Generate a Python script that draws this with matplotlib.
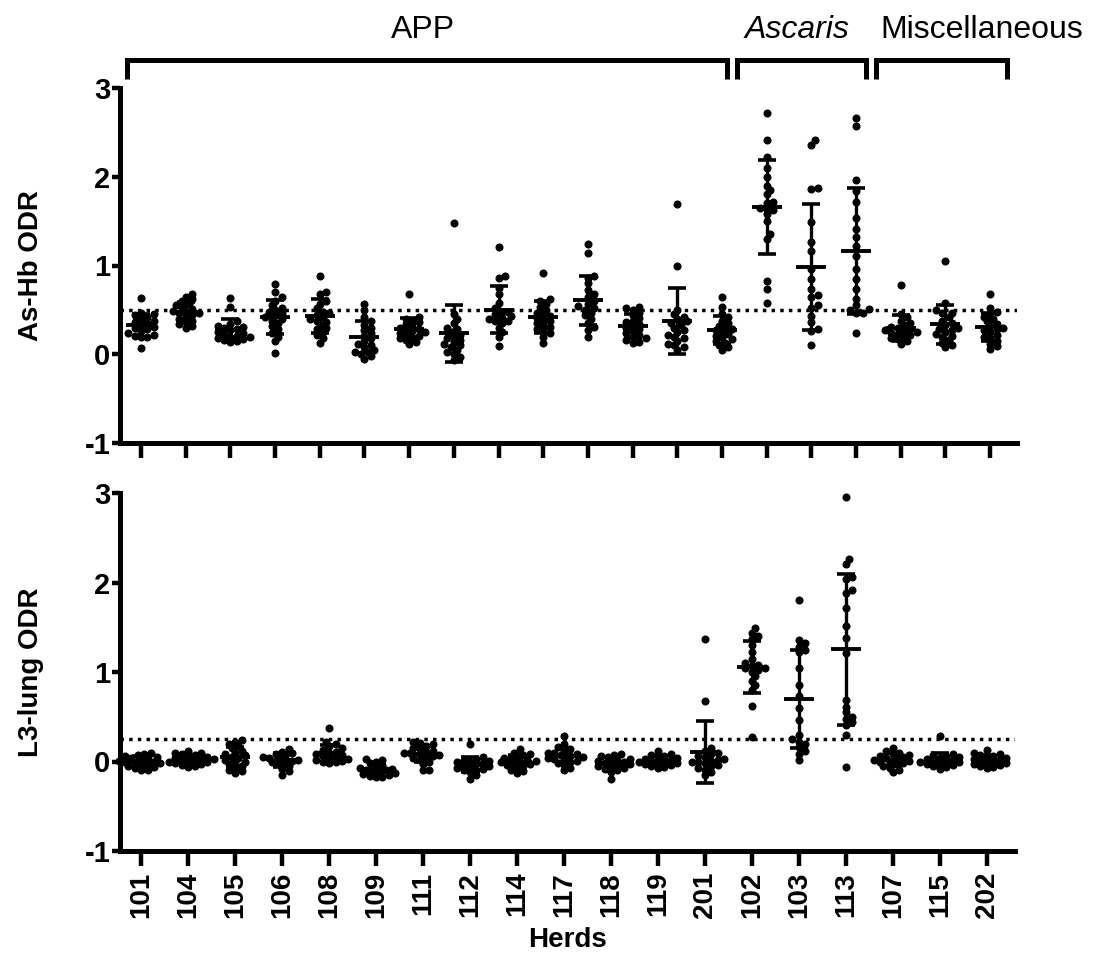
import matplotlib
matplotlib.use('Agg')
import matplotlib.pyplot as plt
import numpy as np

plt.rcParams['font.family'] = ['Liberation Sans', 'DejaVu Sans']
plt.rcParams['axes.unicode_minus'] = False

# herd labels (bottom panel); the top panel has one more (unlabelled) APP column
herds = ['101', '104', '105', '106', '108', '109', '111', '112', '114', '117',
         '118', '119', '201', '102', '103', '113', '107', '115', '202']

# As-Hb ODR, 20 columns
asHb_odr = [
    [0.63, 0.47, 0.45, 0.44, 0.42, 0.40, 0.38, 0.36, 0.35, 0.33, 0.31, 0.30, 0.28, 0.26, 0.24, 0.22, 0.21, 0.20, 0.19, 0.07],
    [0.68, 0.65, 0.62, 0.60, 0.57, 0.55, 0.53, 0.51, 0.49, 0.48, 0.47, 0.46, 0.44, 0.42, 0.40, 0.38, 0.36, 0.34, 0.32, 0.30],
    [0.63, 0.53, 0.37, 0.34, 0.31, 0.32, 0.30, 0.28, 0.27, 0.25, 0.24, 0.22, 0.21, 0.20, 0.19, 0.18, 0.17, 0.16, 0.15, 0.14],
    [0.79, 0.70, 0.64, 0.60, 0.55, 0.52, 0.50, 0.48, 0.46, 0.44, 0.42, 0.40, 0.38, 0.35, 0.32, 0.28, 0.24, 0.20, 0.15, 0.01],
    [0.88, 0.70, 0.68, 0.60, 0.57, 0.52, 0.48, 0.46, 0.44, 0.42, 0.40, 0.38, 0.36, 0.33, 0.30, 0.28, 0.25, 0.22, 0.18, 0.13],
    [0.57, 0.50, 0.42, 0.37, 0.33, 0.30, 0.27, 0.24, 0.21, 0.18, 0.15, 0.12, 0.10, 0.08, 0.05, 0.03, 0.02, 0.00, -0.02, -0.05],
    [0.68, 0.42, 0.40, 0.38, 0.36, 0.34, 0.32, 0.30, 0.29, 0.28, 0.26, 0.25, 0.24, 0.22, 0.21, 0.20, 0.18, 0.16, 0.14, 0.11],
    [1.48, 0.45, 0.40, 0.35, 0.30, 0.28, 0.25, 0.22, 0.20, 0.18, 0.16, 0.14, 0.12, 0.10, 0.08, 0.05, 0.02, 0.00, -0.03, -0.06],
    [1.21, 0.88, 0.86, 0.75, 0.68, 0.58, 0.52, 0.48, 0.45, 0.43, 0.48, 0.40, 0.38, 0.41, 0.38, 0.35, 0.30, 0.25, 0.20, 0.09],
    [0.91, 0.62, 0.60, 0.57, 0.53, 0.50, 0.47, 0.45, 0.43, 0.41, 0.39, 0.37, 0.35, 0.33, 0.31, 0.29, 0.27, 0.24, 0.20, 0.13],
    [1.24, 1.14, 0.88, 0.86, 0.80, 0.72, 0.68, 0.64, 0.60, 0.57, 0.54, 0.52, 0.50, 0.47, 0.44, 0.40, 0.35, 0.31, 0.27, 0.20],
    [0.53, 0.52, 0.50, 0.47, 0.44, 0.41, 0.38, 0.36, 0.34, 0.32, 0.30, 0.28, 0.26, 0.24, 0.22, 0.20, 0.18, 0.16, 0.14, 0.13],
    [1.69, 0.99, 0.50, 0.45, 0.42, 0.40, 0.37, 0.35, 0.33, 0.30, 0.27, 0.25, 0.22, 0.20, 0.18, 0.15, 0.12, 0.10, 0.08, 0.05],
    [0.64, 0.53, 0.45, 0.42, 0.38, 0.35, 0.32, 0.30, 0.28, 0.27, 0.25, 0.23, 0.21, 0.19, 0.17, 0.15, 0.13, 0.10, 0.08, 0.05],
    [2.72, 2.41, 2.22, 2.10, 2.00, 1.90, 1.85, 1.80, 1.72, 1.70, 1.64, 1.65, 1.62, 1.58, 1.50, 1.35, 1.30, 0.83, 0.73, 0.58],
    [2.41, 2.36, 1.87, 1.86, 1.49, 1.26, 1.16, 0.96, 0.85, 0.73, 0.67, 0.64, 0.55, 0.52, 0.43, 0.36, 0.28, 0.26, 0.10],
    [2.66, 2.57, 1.96, 1.84, 1.71, 1.54, 1.41, 1.32, 1.22, 1.11, 0.96, 0.85, 0.73, 0.62, 0.56, 0.51, 0.50, 0.47, 0.46, 0.24],
    [0.78, 0.45, 0.42, 0.38, 0.35, 0.33, 0.31, 0.30, 0.28, 0.27, 0.26, 0.25, 0.24, 0.23, 0.22, 0.20, 0.18, 0.17, 0.15, 0.12],
    [1.05, 0.58, 0.50, 0.46, 0.47, 0.42, 0.38, 0.35, 0.33, 0.30, 0.28, 0.27, 0.25, 0.23, 0.21, 0.19, 0.16, 0.13, 0.10, 0.08],
    [0.68, 0.52, 0.48, 0.45, 0.42, 0.40, 0.37, 0.34, 0.32, 0.30, 0.28, 0.27, 0.25, 0.22, 0.20, 0.18, 0.15, 0.12, 0.09, 0.06],
]

# L3-lung ODR, one column per herd
l3lung_odr = [
    [0.10, 0.08, 0.07, 0.06, 0.05, 0.04, 0.03, 0.02, 0.01, 0.00, 0.00, -0.01, -0.02, -0.03, -0.04, -0.05, -0.06, -0.07, -0.09, -0.10],
    [0.12, 0.10, 0.09, 0.08, 0.07, 0.06, 0.05, 0.04, 0.03, 0.03, 0.02, 0.01, 0.00, 0.00, -0.01, -0.02, -0.03, -0.04, -0.05, -0.06],
    [0.24, 0.22, 0.20, 0.17, 0.15, 0.12, 0.10, 0.08, 0.07, 0.05, 0.04, 0.02, 0.00, -0.01, -0.03, -0.05, -0.07, -0.09, -0.11, -0.13],
    [0.14, 0.11, 0.09, 0.08, 0.06, 0.05, 0.04, 0.03, 0.02, 0.01, 0.00, -0.01, -0.03, -0.05, -0.08, -0.11, -0.15],
    [0.37, 0.22, 0.19, 0.17, 0.15, 0.13, 0.11, 0.10, 0.08, 0.07, 0.06, 0.05, 0.04, 0.03, 0.02, 0.01, 0.00, -0.01, -0.02],
    [0.03, 0.02, 0.00, -0.02, -0.04, -0.06, -0.07, -0.08, -0.09, -0.10, -0.11, -0.12, -0.13, -0.14, -0.15, -0.16, -0.17, -0.17],
    [0.22, 0.21, 0.19, 0.17, 0.15, 0.14, 0.12, 0.11, 0.10, 0.09, 0.08, 0.07, 0.06, 0.05, 0.04, 0.02, 0.00, -0.03, -0.09, -0.10],
    [0.20, 0.05, 0.03, 0.02, 0.01, 0.00, -0.01, -0.02, -0.03, -0.04, -0.05, -0.06, -0.07, -0.08, -0.09, -0.10, -0.12, -0.15, -0.19],
    [0.14, 0.10, 0.08, 0.07, 0.05, 0.04, 0.03, 0.02, 0.01, 0.00, -0.01, -0.02, -0.03, -0.04, -0.05, -0.07, -0.09, -0.11, -0.13],
    [0.28, 0.19, 0.16, 0.14, 0.12, 0.10, 0.09, 0.08, 0.07, 0.06, 0.05, 0.04, 0.03, 0.02, 0.01, 0.00, -0.02, -0.04, -0.07, -0.10],
    [0.08, 0.07, 0.06, 0.05, 0.03, 0.02, 0.01, 0.00, -0.01, -0.02, -0.03, -0.04, -0.05, -0.06, -0.07, -0.08, -0.10, -0.12, -0.20],
    [0.12, 0.08, 0.07, 0.06, 0.05, 0.04, 0.03, 0.02, 0.01, 0.00, 0.00, -0.01, -0.02, -0.03, -0.04, -0.05, -0.06, -0.07],
    [1.37, 0.68, 0.15, 0.12, 0.10, 0.08, 0.06, 0.05, 0.03, 0.02, 0.01, 0.00, -0.01, -0.02, -0.04, -0.05, -0.07, -0.09, -0.12, -0.15],
    [1.49, 1.44, 1.40, 1.37, 1.30, 1.22, 1.15, 1.10, 1.08, 1.07, 1.05, 1.04, 1.02, 1.00, 0.95, 0.90, 0.85, 0.80, 0.62, 0.27],
    [1.80, 1.36, 1.32, 1.28, 1.25, 1.22, 1.05, 0.85, 0.73, 0.60, 0.46, 0.30, 0.25, 0.22, 0.20, 0.16, 0.12, 0.08, 0.02],
    [2.96, 2.26, 2.21, 2.06, 2.04, 1.92, 1.88, 1.71, 1.51, 1.38, 1.21, 0.69, 0.61, 0.55, 0.50, 0.48, 0.44, 0.41, 0.30, -0.06],
    [0.15, 0.12, 0.10, 0.08, 0.07, 0.06, 0.05, 0.04, 0.03, 0.02, 0.01, 0.00, -0.01, -0.02, -0.03, -0.05, -0.07, -0.09, -0.12],
    [0.28, 0.08, 0.07, 0.06, 0.05, 0.04, 0.03, 0.02, 0.01, 0.00, 0.00, -0.01, -0.02, -0.03, -0.04, -0.05, -0.06, -0.08],
    [0.13, 0.09, 0.08, 0.07, 0.06, 0.05, 0.04, 0.03, 0.02, 0.01, 0.00, -0.01, -0.02, -0.03, -0.04, -0.05, -0.06, -0.07],
]

asHb_cutoff = 0.5
l3lung_cutoff = 0.25
group_names = ['APP', 'Ascaris', 'Miscellaneous']

W, H, DPI = 1096, 956, 100
DOT_PT = 5.8
DOT_PX = DOT_PT * DPI / 72.0


def swarmOffsets(vals, xpx, ypx):
    # simple beeswarm: place points low to high, nudge sideways until the overlap is small
    vals = np.asarray(vals, float)
    offs = np.zeros(len(vals))
    placed = []
    steps = [0.0]
    for k in range(1, 14):
        steps += [k * 0.4 * DOT_PX, -k * 0.4 * DOT_PX]
    for i in np.argsort(vals):
        y = vals[i] * ypx
        for s in steps:
            if all((s - px) ** 2 + (y - py) ** 2 >= (0.62 * DOT_PX) ** 2 for px, py in placed):
                break
        placed.append((s, y))
        offs[i] = s / xpx
    return offs


def drawPanel(ax, data, cutoff, xlim, rect):
    xpx = rect[2] * W / (xlim[1] - xlim[0])
    ypx = rect[3] * H / 4.0
    for i, vals in enumerate(data):
        vals = np.asarray(vals, float)
        ax.scatter(i + swarmOffsets(vals, xpx, ypx), vals, s=DOT_PT ** 2, c='black',
                   linewidths=0, zorder=3, clip_on=False)
        m, sd = vals.mean(), vals.std(ddof=1)
        ax.plot([i - 15 / xpx, i + 15 / xpx], [m, m], color='black', lw=2.8, zorder=4, solid_capstyle='butt')
        ax.plot([i, i], [m - sd, m + sd], color='black', lw=2.4, zorder=4, solid_capstyle='butt')
        for e in (m - sd, m + sd):
            ax.plot([i - 9 / xpx, i + 9 / xpx], [e, e], color='black', lw=2.6, zorder=4, solid_capstyle='butt')

    ax.axhline(cutoff, color='black', lw=2.5, ls=(0, (1, 1.5)), zorder=2)
    ax.set_xlim(*xlim)
    ax.set_ylim(-1, 3)
    ax.set_yticks([-1, 0, 1, 2, 3])
    ax.set_xticks(range(len(data)))
    for side in ('top', 'right'):
        ax.spines[side].set_visible(False)
    for side in ('left', 'bottom'):
        ax.spines[side].set_linewidth(3.6)
    ax.tick_params(axis='x', length=11, width=3.2, direction='out')
    ax.tick_params(axis='y', length=6, width=3.2, direction='out', pad=1, labelsize=21)
    for lbl in ax.get_yticklabels():
        lbl.set_fontweight('bold')


fig = plt.figure(figsize=(W / DPI, H / DPI), dpi=DPI)

topRect = [120 / W, 1 - 443 / H, 897 / W, 355 / H]
botRect = [120 / W, 1 - 851 / H, 895 / W, 358 / H]

ax1 = fig.add_axes(topRect)
drawPanel(ax1, asHb_odr, asHb_cutoff, (-0.47, 19.6), topRect)
ax1.set_xticklabels([])
ax1.set_ylabel('As-Hb ODR', fontsize=20, fontweight='bold')
ax1.yaxis.set_label_coords(-0.085, 0.5)

ax2 = fig.add_axes(botRect)
drawPanel(ax2, l3lung_odr, l3lung_cutoff, (-0.45, 18.6), botRect)
ax2.set_xticklabels(herds, rotation=90, fontsize=20, fontweight='bold')
ax2.tick_params(axis='x', pad=4)
ax2.set_ylabel('L3-lung ODR', fontsize=20, fontweight='bold')
ax2.yaxis.set_label_coords(-0.085, 0.5)
fig.text(567 / W, 1 - 940 / H, 'Herds', fontsize=20, fontweight='bold', ha='center', va='center')

# group brackets above the top panel
bracketSpans = [(-0.31, 13.11), (13.33, 16.22), (16.44, 19.37)]
for x0, x1 in bracketSpans:
    ax1.plot([x0, x0, x1, x1], [3.10, 3.32, 3.32, 3.10], color='black', lw=3.6,
             clip_on=False, solid_joinstyle='miter', solid_capstyle='butt')

labelCentres = [423, 797, 982]
for name, cx in zip(group_names, labelCentres):
    fig.text(cx / W, 1 - 30 / H, name, fontsize=23, ha='center', va='center',
             style='italic' if name == 'Ascaris' else 'normal')

fig.savefig('out.png', dpi=DPI)
